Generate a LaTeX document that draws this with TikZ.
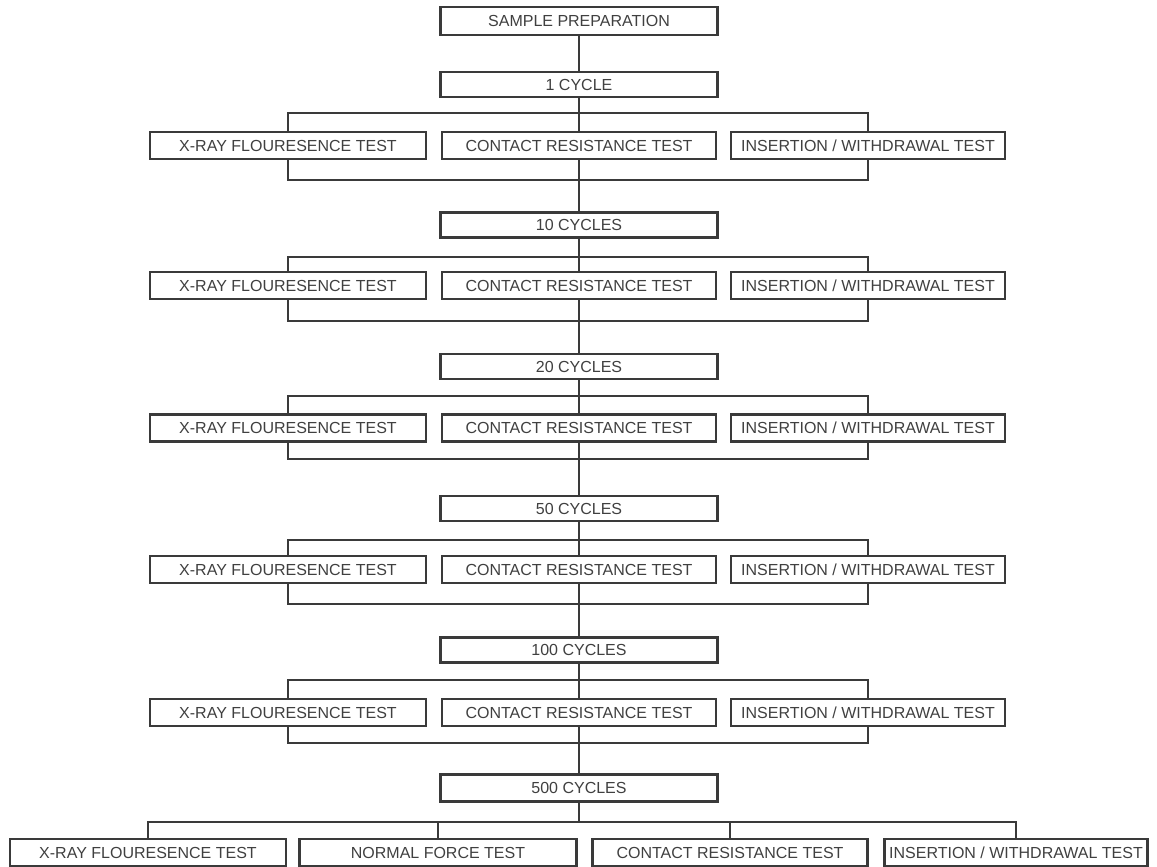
\documentclass[tikz,border=0pt]{standalone}
\usepackage{fontspec}
\setmainfont{Liberation Sans}
\definecolor{ink}{HTML}{3A3A3A}
\definecolor{txt}{HTML}{404040}
\tikzset{
  box/.style={draw=ink, line width=2.2pt, inner sep=0pt, text=txt,
    font=\fontsize{16}{16}\selectfont, minimum height=27pt},
  cyc/.style={box, minimum width=277pt, minimum height=25pt},
  xrb/.style={box, minimum width=276pt},
  crb/.style={box, minimum width=274pt},
  inb/.style={box, minimum width=274pt},
  conn/.style={draw=ink, line width=2.2pt}
}
\begin{document}
\begin{tikzpicture}[x=1pt,y=-1pt]
\useasboundingbox (0,0) rectangle (1157,867);
\fill[white] (0,0) rectangle (1157,867);
% cycle boxes
\node[cyc, minimum height=28pt] (sp) at (579,21) {SAMPLE PREPARATION};
\node[cyc] (c1) at (579,84.5) {1 CYCLE};
\node[cyc] (c10) at (579,225) {10 CYCLES};
\node[cyc] (c20) at (579,366.5) {20 CYCLES};
\node[cyc] (c50) at (579,508.5) {50 CYCLES};
\node[cyc] (c100) at (579,650) {100 CYCLES};
\node[cyc, minimum height=27pt] (c500) at (579,788) {500 CYCLES};
% test rows
\foreach \r/\y/\t/\b in {1/145.5/113/180, 2/285.5/257/321, 3/428/396/459, 4/569.5/540/604, 5/712.5/680/743}{
  \node[xrb] (xr\r) at (288,\y) {X-RAY FLOURESENCE TEST};
  \node[crb] (cr\r) at (579,\y) {CONTACT RESISTANCE TEST};
  \node[inb] (in\r) at (868,\y) {INSERTION / WITHDRAWAL TEST};
  \coordinate (t\r) at (579,\t);
  \coordinate (b\r) at (579,\b);
  \draw[conn] (xr\r.north) |- (t\r) -| (in\r.north);
  \draw[conn] (xr\r.south) |- (b\r) -| (in\r.south);
}
% main line
\draw[conn] (sp.south) -- (c1.north);
\draw[conn] (c1.south) -- (cr1.north);
\draw[conn] (cr1.south) -- (c10.north);
\draw[conn] (c10.south) -- (cr2.north);
\draw[conn] (cr2.south) -- (c20.north);
\draw[conn] (c20.south) -- (cr3.north);
\draw[conn] (cr3.south) -- (c50.north);
\draw[conn] (c50.south) -- (cr4.north);
\draw[conn] (cr4.south) -- (c100.north);
\draw[conn] (c100.south) -- (cr5.north);
\draw[conn] (cr5.south) -- (c500.north);
% last row
\node[box, minimum width=276pt] (xr6) at (148,852.5) {X-RAY FLOURESENCE TEST};
\node[box, minimum width=277pt] (nf6) at (438,852.5) {NORMAL FORCE TEST};
\node[box, minimum width=275pt] (cr6) at (730,852.5) {CONTACT RESISTANCE TEST};
\node[box, minimum width=263pt] (in6) at (1016,852.5) {INSERTION / WITHDRAWAL TEST};
\coordinate (t6) at (579,822);
\draw[conn] (c500.south) -- (t6);
\draw[conn] (xr6.north) |- (t6) -| (in6.north);
\draw[conn] (nf6.north) -- (nf6.north |- t6);
\draw[conn] (cr6.north) -- (cr6.north |- t6);
\end{tikzpicture}
\end{document}
